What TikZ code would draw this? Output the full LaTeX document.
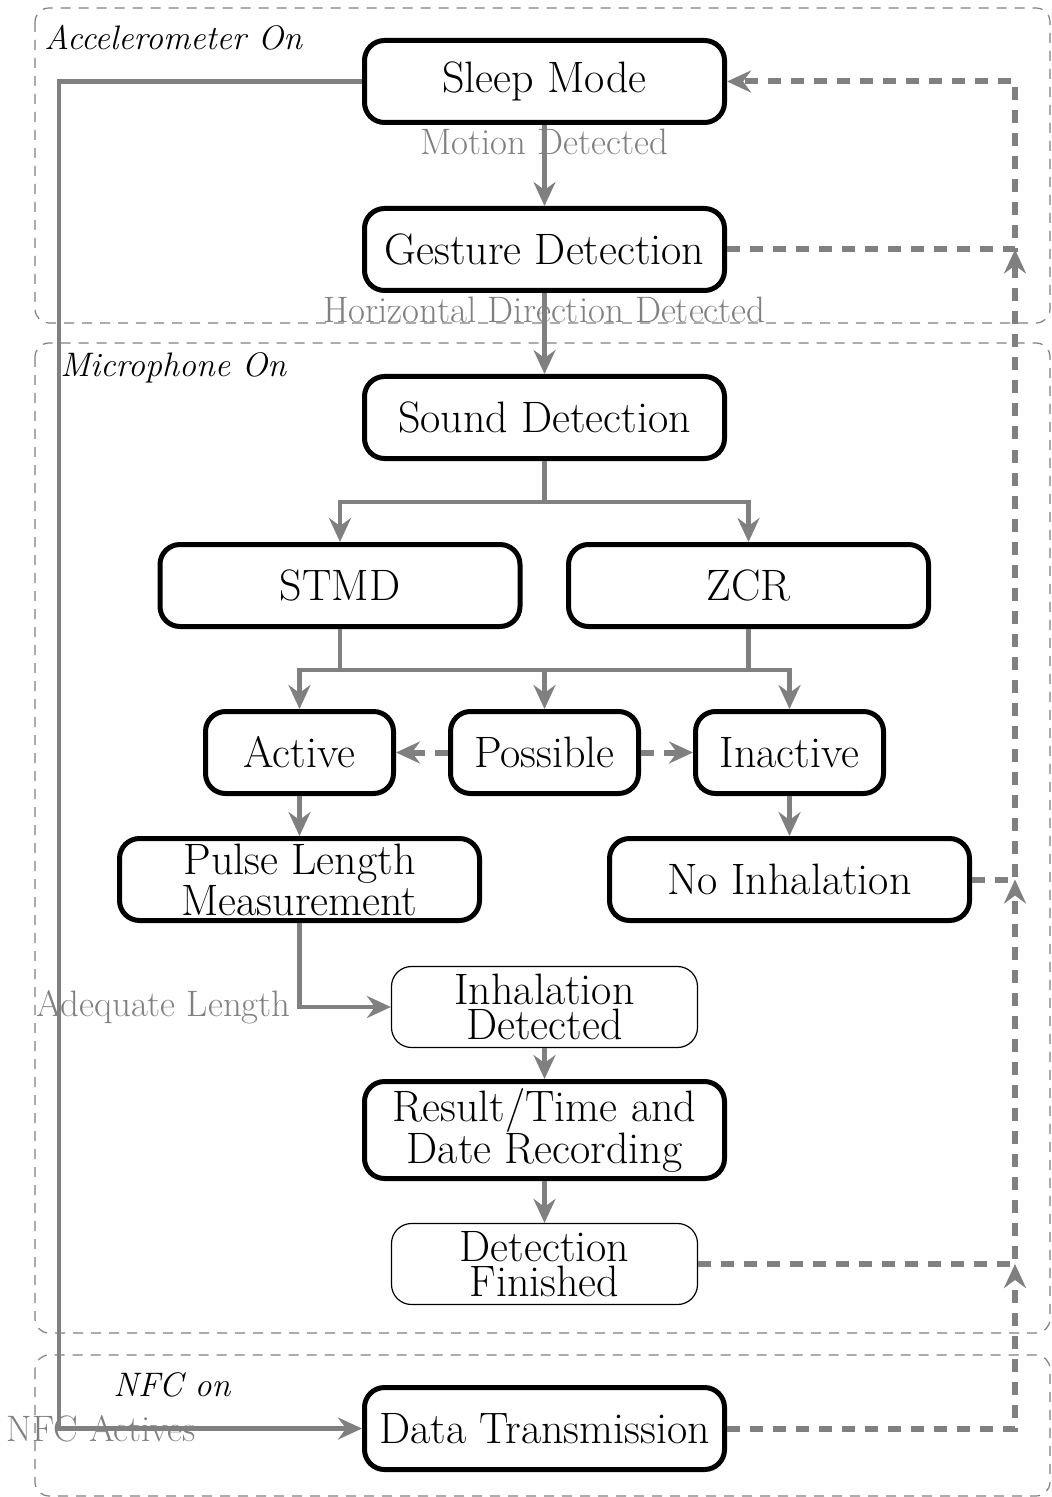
\documentclass[tikz,border=0pt]{standalone}
\usepackage{tikz}
\usetikzlibrary{arrows.meta}

\tikzset{
  state/.style={draw, line width=2.5pt, rounded corners=10pt, minimum width=180pt,
    minimum height=41pt, inner sep=2pt, align=center, font=\fontsize{22}{19.5}\selectfont},
  smallstate/.style={state, minimum width=94pt},
  softstate/.style={state, line width=0.6pt, minimum width=153pt, minimum height=40.5pt,
    font=\fontsize{22}{17.5}\selectfont},
  link/.style={draw=gray, line width=2.2pt},
  flow/.style={link, -{Stealth[length=12pt,width=11pt,inset=4pt]}},
  back/.style={flow, line width=3pt, dash pattern=on 6.5pt off 5pt},
  lbl/.style={text=gray, font=\fontsize{18.4}{20}\selectfont},
  zone/.style={draw=gray, line width=0.6pt, dash pattern=on 5pt off 4pt, rounded corners=7pt},
  zonelabel/.style={anchor=west, inner sep=0pt, font=\fontsize{17}{19}\selectfont\itshape}
}

\begin{document}
\begin{tikzpicture}[x=0.5pt, y=-0.5pt]
  \useasboundingbox (0,0) rectangle (1051,1497);

  % sensor zones
  \draw[zone] (35,8) rectangle (1050,323);
  \draw[zone] (35,343) rectangle (1050,1333);
  \draw[zone] (35,1355) rectangle (1050,1496);
  \node[zonelabel] (acczone) at (44,38) {Accelerometer On};
  \node[zonelabel] (miczone) at (60,368) {Microphone On};
  \node[zonelabel] (nfczone) at (113,1385) {NFC on};

  % states
  \node[state] (sleep) at (544.5,81.5) {Sleep Mode};
  \node[state] (gesture) at (544.5,249.5) {Gesture Detection};
  \node[state] (sound) at (544.5,417.5) {Sound Detection};
  \node[state] (stmd) at (340,585.5) {STMD};
  \node[state] (zcr) at (748.5,585.5) {ZCR};
  \node[smallstate] (active) at (299.5,752.5) {Active};
  \node[smallstate] (possible) at (544.5,752.5) {Possible};
  \node[smallstate] (inactive) at (789.5,752.5) {Inactive};
  \node[state] (pulse) at (299.5,879.5) {Pulse Length\\Measurement};
  \node[state] (noinhal) at (789.5,879.5) {No Inhalation};
  \node[softstate] (inhal) at (544.5,1007) {Inhalation\\Detected};
  \node[state, minimum height=48.5pt, font=\fontsize{22}{21}\selectfont] (record) at (544.5,1130) {Result/Time and\\Date Recording};
  \node[softstate] (finished) at (544.5,1264) {Detection\\Finished};
  \node[state] (data) at (544.5,1428.5) {Data Transmission};

  \coordinate (split1) at (544.5,502);
  \coordinate (split2) at (544.5,670);
  \coordinate (nfcturn) at (59,1428.5);
  \coordinate (railtop) at (1015,81.5);

  % main flow
  \draw[flow] (sleep.south) -- node[lbl, below, pos=0, inner sep=3pt, yshift=2pt] {Motion Detected} (gesture.north);
  \draw[flow] (gesture.south) -- node[lbl, below, pos=0, inner sep=3pt, yshift=2pt] {Horizontal Direction Detected} (sound.north);
  \draw[link] (sound.south) -- (split1);
  \draw[flow] (split1) -| (stmd.north);
  \draw[flow] (split1) -| (zcr.north);
  \draw[link] (stmd.south) |- (split2);
  \draw[link] (zcr.south) |- (split2);
  \draw[flow] (split2) -| (active.north);
  \draw[flow] (split2) -- (possible.north);
  \draw[flow] (split2) -| (inactive.north);
  \draw[back] (possible.west) -- (active.east);
  \draw[back] (possible.east) -- (inactive.west);
  \draw[flow] (active.south) -- (pulse.north);
  \draw[flow] (inactive.south) -- (noinhal.north);
  \draw[flow] (pulse.south) |- node[lbl, left, pos=0.5] {Adequate Length} (inhal.west);
  \draw[flow] (inhal.south) -- (record.north);
  \draw[flow] (record.south) -- (finished.north);
  \draw[flow] (sleep.west) -| (nfcturn) -- node[lbl, pos=0.14] {NFC Actives} (data.west);

  % return paths
  \draw[back] (data.east) -| (finished.east -| railtop);
  \draw[back] (finished.east) -| (noinhal.east -| railtop);
  \draw[back] (noinhal.east) -| (gesture.east -| railtop);
  \draw[back] (gesture.east) -| (railtop) -- (sleep.east);
\end{tikzpicture}
\end{document}
